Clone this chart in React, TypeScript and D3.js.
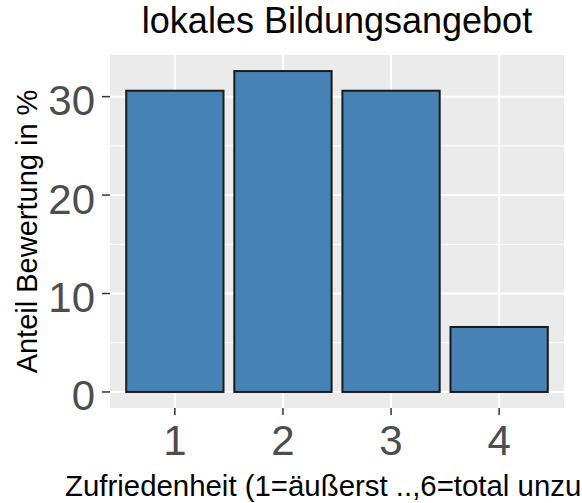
import React from "react";
import * as d3 from "d3";

const categories = ["1", "2", "3", "4"];
const values = [30.6, 32.6, 30.6, 6.6];
const yTicks = [0, 10, 20, 30];
const yMinorTicks = [5, 15, 25];
const title = "lokales Bildungsangebot";
const xTitle = "Zufriedenheit (1=äußerst ..,6=total unzu";
const yTitle = "Anteil Bewertung in %";

const W = 582;
const H = 503;
const panel = { left: 110, right: 564, top: 55, bottom: 408 };
const FONT = "'Liberation Sans', Arial, Helvetica, sans-serif";

export default function App() {
  const maxV = d3.max(values) as number;
  const y = d3
    .scaleLinear()
    .domain([-maxV * 0.05, maxV * 1.05])
    .range([panel.bottom, panel.top]);
  const x = d3
    .scaleLinear()
    .domain([0.4, categories.length + 0.6])
    .range([panel.left, panel.right]);
  const bw = (x(1) - x(0)) * 0.9;

  return (
    <svg
      width={W}
      height={H}
      style={{ position: "absolute", left: 0, top: 0, background: "white" }}
      fontFamily={FONT}
    >
      <rect
        x={panel.left}
        y={panel.top}
        width={panel.right - panel.left}
        height={panel.bottom - panel.top}
        fill="#EBEBEB"
      />
      {yMinorTicks.map((t) => (
        <line
          key={"ym" + t}
          x1={panel.left}
          x2={panel.right}
          y1={y(t)}
          y2={y(t)}
          stroke="white"
          strokeWidth={1}
        />
      ))}
      {yTicks.map((t) => (
        <line
          key={"y" + t}
          x1={panel.left}
          x2={panel.right}
          y1={y(t)}
          y2={y(t)}
          stroke="white"
          strokeWidth={2}
        />
      ))}
      {categories.map((c, i) => (
        <line
          key={"x" + c}
          x1={x(i + 1)}
          x2={x(i + 1)}
          y1={panel.top}
          y2={panel.bottom}
          stroke="white"
          strokeWidth={2}
        />
      ))}
      {values.map((v, i) => (
        <rect
          key={"b" + i}
          x={x(i + 1) - bw / 2}
          y={y(v)}
          width={bw}
          height={y(0) - y(v)}
          fill="#4682B4"
          stroke="#1a1a1a"
          strokeWidth={2}
        />
      ))}
      {yTicks.map((t) => (
        <g key={"yt" + t}>
          <line
            x1={panel.left - 8}
            x2={panel.left}
            y1={y(t)}
            y2={y(t)}
            stroke="#333333"
            strokeWidth={1.5}
          />
          <text
            x={95}
            y={y(t)}
            dy="0.44em"
            textAnchor="end"
            fontSize={42}
            fill="#4D4D4D"
          >
            {t}
          </text>
        </g>
      ))}
      {categories.map((c, i) => (
        <g key={"xt" + c}>
          <line
            x1={x(i + 1)}
            x2={x(i + 1)}
            y1={panel.bottom}
            y2={panel.bottom + 7}
            stroke="#333333"
            strokeWidth={1.5}
          />
          <text
            x={x(i + 1)}
            y={455}
            textAnchor="middle"
            fontSize={42}
            fill="#4D4D4D"
          >
            {c}
          </text>
        </g>
      ))}
      <text
        x={(panel.left + panel.right) / 2}
        y={33}
        textAnchor="middle"
        fontSize={36}
        fill="black"
      >
        {title}
      </text>
      <text x={65} y={496} textAnchor="start" fontSize={29.4} fill="black">
        {xTitle}
      </text>
      <text
        transform={`translate(37, ${(panel.top + panel.bottom) / 2}) rotate(-90)`}
        textAnchor="middle"
        fontSize={29}
        fill="black"
      >
        {yTitle}
      </text>
    </svg>
  );
}
